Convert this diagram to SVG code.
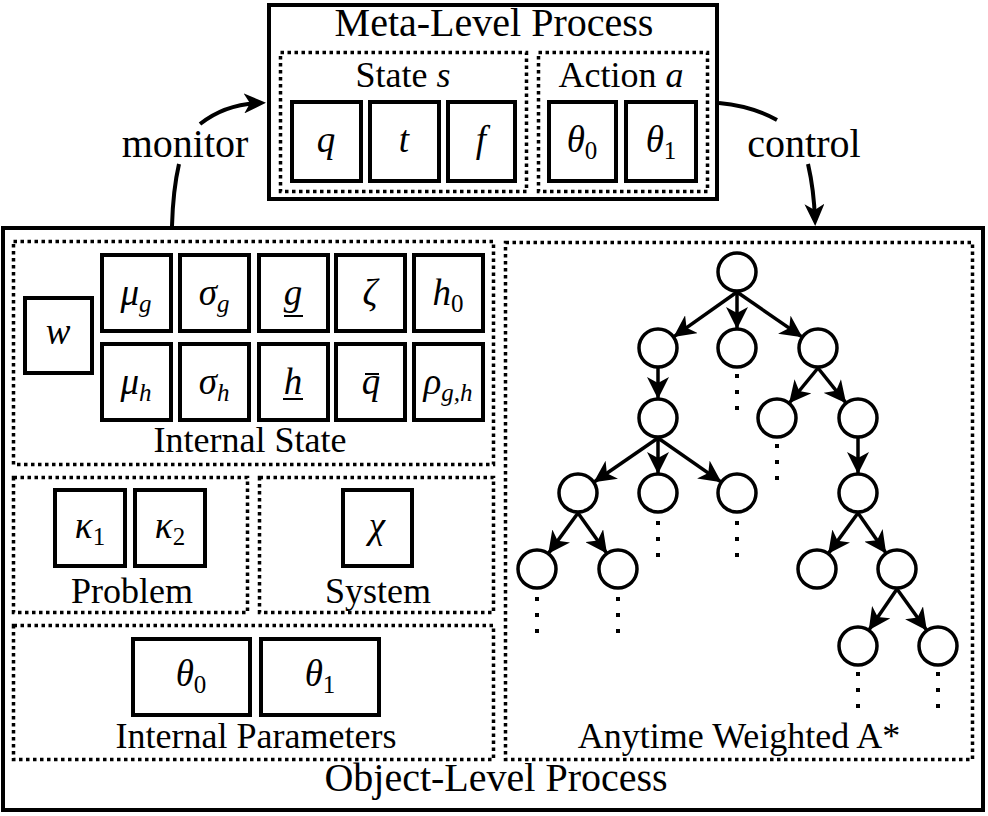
<svg xmlns="http://www.w3.org/2000/svg" xmlns:xlink="http://www.w3.org/1999/xlink" width="988" height="816" viewBox="0 0 988 816" font-family="'Liberation Serif', 'DejaVu Serif', serif">
<style>
.solid{fill:none;stroke:#000;stroke-width:4}
.dot{fill:none;stroke:#000;stroke-width:3.5;stroke-dasharray:3.5 3.5}
.cell{fill:#fff;stroke:#000;stroke-width:4}
.node{fill:#fff;stroke:#000;stroke-width:3.5}
.edge{fill:none;stroke:#000;stroke-width:3.5;marker-end:url(#ah)}
.conn{fill:none;stroke:#000;stroke-width:4}
.lbl{font-size:36px;text-anchor:middle;fill:#000}
.big{font-size:40px;text-anchor:middle;fill:#000}
.m{font-size:37px;font-style:italic;text-anchor:middle;fill:#000}
.s{font-size:25px;font-style:normal}
.si{font-size:25px;font-style:italic}
.bar{stroke:#000;stroke-width:2}
</style>
<defs>
<marker id="ah" markerUnits="userSpaceOnUse" markerWidth="22" markerHeight="22" viewBox="0 0 22 22" refX="21" refY="11" orient="auto">
<path d="M0,0 L22,11 L0,22 L6,11 z" fill="#000"/>
</marker>
<marker id="bh" markerUnits="userSpaceOnUse" markerWidth="22" markerHeight="20" viewBox="0 0 22 20" refX="16" refY="10" orient="auto">
<path d="M0,0 L22,10 L0,20 L6,10 z" fill="#000"/>
</marker>
<g id="vdots">
<rect x="-2" y="-2" width="4" height="4" fill="#000"/>
<rect x="-2" y="14" width="4" height="4" fill="#000"/>
<rect x="-2" y="30" width="4" height="4" fill="#000"/>
</g>
</defs>
<rect width="988" height="816" fill="#fff"/>

<g id="meta-level">
<rect class="solid" x="269" y="5" width="448" height="194"/>
<text class="big" x="494" y="36">Meta-Level Process</text>
<g id="state-s">
<rect class="dot" x="280.5" y="52.5" width="246" height="139"/>
<text class="lbl" x="403" y="87">State <tspan font-style="italic">s</tspan></text>
<g id="q"><rect class="cell" x="292" y="102" width="69" height="79"/><text class="m" x="326" y="152">q</text></g>
<g id="t"><rect class="cell" x="370" y="102" width="69" height="79"/><text class="m" x="404" y="152">t</text></g>
<g id="f"><rect class="cell" x="448" y="102" width="67" height="79"/><text class="m" x="481" y="152">f</text></g>
</g>
<g id="action-a">
<rect class="dot" x="538.5" y="52.5" width="169" height="139"/>
<text class="lbl" x="621" y="87">Action <tspan font-style="italic">a</tspan></text>
<g id="meta-theta0"><rect class="cell" x="549" y="102" width="67" height="79"/><text class="m" x="582" y="152">θ<tspan class="s" dy="7">0</tspan></text></g>
<g id="meta-theta1"><rect class="cell" x="626" y="102" width="70" height="79"/><text class="m" x="661" y="152">θ<tspan class="s" dy="7">1</tspan></text></g>
</g>
</g>

<g id="object-level">
<rect class="solid" x="3" y="228" width="980" height="582"/>
<text class="big" x="496" y="791">Object-Level Process</text>

<g id="internal-state">
<rect class="dot" x="13.5" y="241.5" width="480" height="223"/>
<text class="lbl" x="250" y="452">Internal State</text>
<g id="w"><rect class="cell" x="25" y="298" width="67" height="75"/><text class="m" x="58" y="344">w</text></g>
<g id="mu-g"><rect class="cell" x="102" y="255" width="69" height="76"/><text class="m" x="136" y="305">μ<tspan class="si" dy="7">g</tspan></text></g>
<g id="sigma-g"><rect class="cell" x="180" y="255" width="69" height="76"/><text class="m" x="214" y="305">σ<tspan class="si" dy="7">g</tspan></text></g>
<g id="g-low"><rect class="cell" x="259" y="255" width="69" height="76"/><text class="m" x="293" y="305">g</text><line class="bar" x1="284" y1="316" x2="303" y2="316"/></g>
<g id="zeta"><rect class="cell" x="336" y="255" width="69" height="76"/><text class="m" x="370" y="305">ζ</text></g>
<g id="h0"><rect class="cell" x="414" y="255" width="69" height="76"/><text class="m" x="448" y="305">h<tspan class="s" dy="7">0</tspan></text></g>
<g id="mu-h"><rect class="cell" x="102" y="344" width="69" height="76"/><text class="m" x="136" y="394">μ<tspan class="si" dy="7">h</tspan></text></g>
<g id="sigma-h"><rect class="cell" x="180" y="344" width="69" height="76"/><text class="m" x="214" y="394">σ<tspan class="si" dy="7">h</tspan></text></g>
<g id="h-low"><rect class="cell" x="259" y="344" width="69" height="76"/><text class="m" x="293" y="394">h</text><line class="bar" x1="283" y1="399" x2="303" y2="399"/></g>
<g id="q-bar"><rect class="cell" x="336" y="344" width="69" height="76"/><text class="m" x="371" y="394">q</text><line class="bar" x1="365" y1="374" x2="379" y2="374"/></g>
<g id="rho"><rect class="cell" x="414" y="344" width="69" height="76"/><text class="m" x="448" y="394">ρ<tspan class="si" dy="7">g,h</tspan></text></g>
</g>

<g id="problem">
<rect class="dot" x="13.5" y="477.5" width="234" height="135"/>
<text class="lbl" x="132" y="603">Problem</text>
<g id="kappa1"><rect class="cell" x="55" y="490" width="70" height="76"/><text class="m" x="90" y="538">κ<tspan class="s" dy="7">1</tspan></text></g>
<g id="kappa2"><rect class="cell" x="135" y="490" width="70" height="76"/><text class="m" x="170" y="538">κ<tspan class="s" dy="7">2</tspan></text></g>
</g>

<g id="system">
<rect class="dot" x="259.5" y="477.5" width="234" height="135"/>
<text class="lbl" x="378" y="603">System</text>
<g id="chi"><rect class="cell" x="343" y="490" width="69" height="76"/><text class="m" x="377" y="538">χ</text></g>
</g>

<g id="internal-parameters">
<rect class="dot" x="13.5" y="625.5" width="480" height="134"/>
<text class="lbl" x="256" y="748">Internal Parameters</text>
<g id="theta0"><rect class="cell" x="133" y="639" width="117" height="76"/><text class="m" x="191" y="686">θ<tspan class="s" dy="7">0</tspan></text></g>
<g id="theta1"><rect class="cell" x="261" y="639" width="118" height="76"/><text class="m" x="320" y="686">θ<tspan class="s" dy="7">1</tspan></text></g>
</g>

<g id="anytime-weighted-astar">
<rect class="dot" x="505.5" y="242.5" width="467" height="517"/>
<text class="lbl" x="739" y="748">Anytime Weighted A*</text>
<g id="tree-edges">
<line class="edge" x1="737" y1="292" x2="674.3" y2="336.4"/>
<line class="edge" x1="737" y1="292" x2="737" y2="328"/>
<line class="edge" x1="737" y1="292" x2="801.6" y2="336.6"/>
<line class="edge" x1="658" y1="368" x2="658" y2="398"/>
<line class="edge" x1="818" y1="368" x2="789.7" y2="402.5"/>
<line class="edge" x1="818" y1="368" x2="845.5" y2="402.4"/>
<line class="edge" x1="658" y1="438" x2="594.5" y2="481.7"/>
<line class="edge" x1="658" y1="438" x2="658" y2="473"/>
<line class="edge" x1="658" y1="438" x2="720.6" y2="481.6"/>
<line class="edge" x1="858" y1="438" x2="858" y2="473"/>
<line class="edge" x1="578" y1="513" x2="548.8" y2="552.9"/>
<line class="edge" x1="578" y1="513" x2="606.4" y2="552.7"/>
<line class="edge" x1="858" y1="513" x2="828.8" y2="552.9"/>
<line class="edge" x1="858" y1="513" x2="885.6" y2="552.6"/>
<line class="edge" x1="897" y1="589" x2="869.3" y2="629.5"/>
<line class="edge" x1="897" y1="589" x2="926.3" y2="629.8"/>
</g>
<g id="tree-nodes">
<circle class="node" cx="737" cy="272" r="19"/>
<circle class="node" cx="658" cy="348" r="19"/>
<circle class="node" cx="737" cy="348" r="19"/>
<circle class="node" cx="818" cy="348" r="19"/>
<circle class="node" cx="658" cy="418" r="19"/>
<circle class="node" cx="777" cy="418" r="19"/>
<circle class="node" cx="858" cy="418" r="19"/>
<circle class="node" cx="578" cy="493" r="19"/>
<circle class="node" cx="658" cy="493" r="19"/>
<circle class="node" cx="737" cy="493" r="19"/>
<circle class="node" cx="858" cy="493" r="19"/>
<circle class="node" cx="537" cy="569" r="19"/>
<circle class="node" cx="618" cy="569" r="19"/>
<circle class="node" cx="817" cy="569" r="19"/>
<circle class="node" cx="897" cy="569" r="19"/>
<circle class="node" cx="858" cy="646" r="19"/>
<circle class="node" cx="938" cy="646" r="19"/>
</g>
<g id="tree-dots">
<use xlink:href="#vdots" x="737" y="376"/>
<use xlink:href="#vdots" x="777" y="446"/>
<use xlink:href="#vdots" x="658" y="523"/>
<use xlink:href="#vdots" x="737" y="523"/>
<use xlink:href="#vdots" x="537" y="599"/>
<use xlink:href="#vdots" x="618" y="599"/>
<use xlink:href="#vdots" x="858" y="674"/>
<use xlink:href="#vdots" x="938" y="674"/>
</g>
</g>
</g>

<g id="connectors">
<path class="conn" d="M172,226 Q173,190 179,164"/>
<path class="conn" d="M200,124 Q225,104 260,103" marker-end="url(#bh)"/>
<text class="big" x="185" y="157">monitor</text>
<path class="conn" d="M719,103 Q752,106 777,120"/>
<path class="conn" d="M808,164 Q814,190 815,220" marker-end="url(#bh)"/>
<text class="big" x="804" y="157">control</text>
</g>
</svg>
